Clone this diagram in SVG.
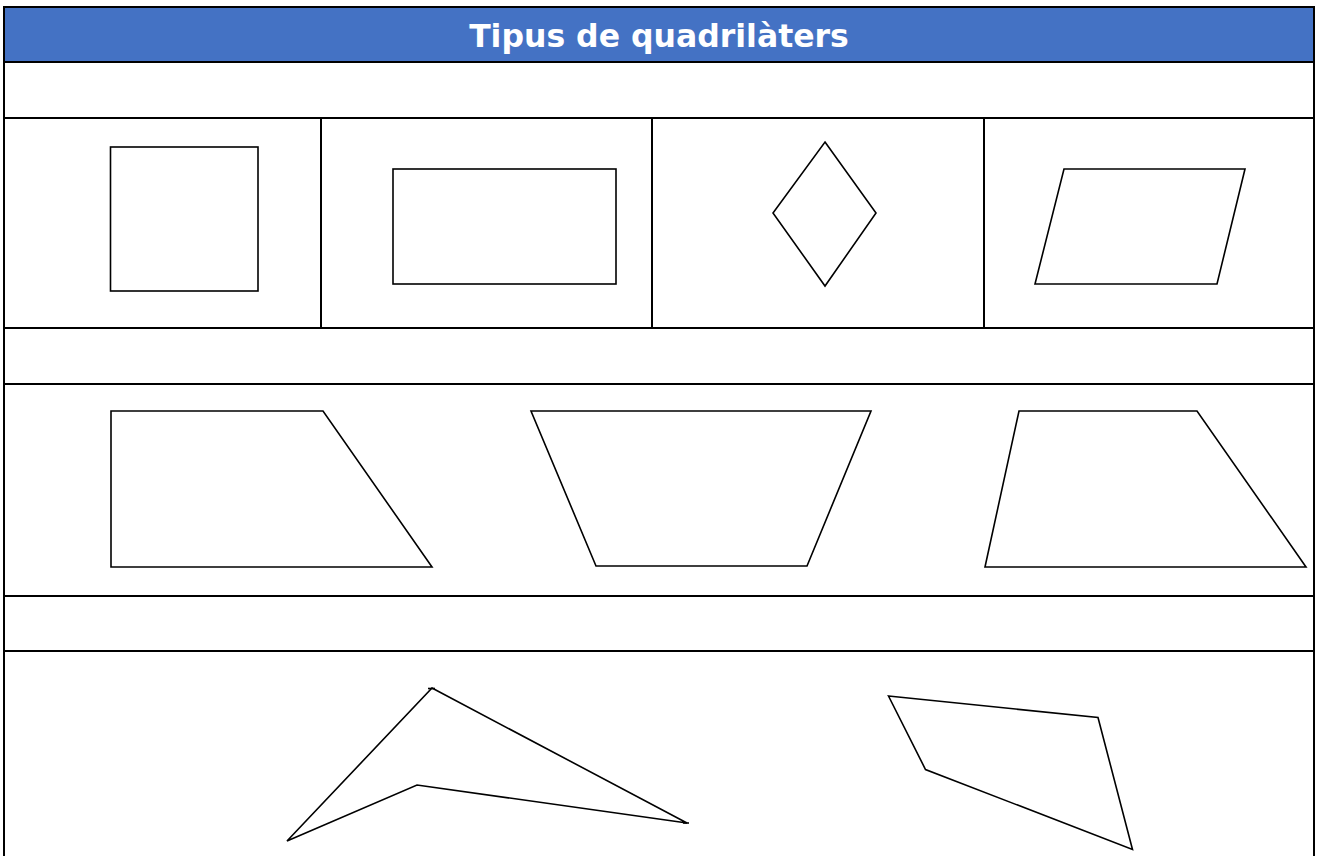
<svg xmlns="http://www.w3.org/2000/svg" width="1321" height="856" viewBox="0 0 1321 856">
<style>
.grid{stroke:#000;stroke-width:2;fill:none}
.shape{stroke:#000;stroke-width:1.6;fill:none;stroke-linejoin:miter}
.title{font-family:"DejaVu Sans",Verdana,sans-serif;font-weight:bold;font-size:31.5px;fill:#fff}
</style>
<rect x="0" y="0" width="1321" height="856" fill="#fff"/>
<g id="table">
<rect x="4" y="7" width="1310" height="55" fill="#4472C4"/>
<line class="grid" x1="4" y1="7" x2="1314" y2="7"/>
<line class="grid" x1="4" y1="62" x2="1314" y2="62"/>
<line class="grid" x1="4" y1="118" x2="1314" y2="118"/>
<line class="grid" x1="4" y1="328" x2="1314" y2="328"/>
<line class="grid" x1="4" y1="384" x2="1314" y2="384"/>
<line class="grid" x1="4" y1="596" x2="1314" y2="596"/>
<line class="grid" x1="4" y1="651" x2="1314" y2="651"/>
<line class="grid" x1="4" y1="6" x2="4" y2="856"/>
<line class="grid" x1="1314" y1="6" x2="1314" y2="856"/>
<line class="grid" x1="321" y1="118" x2="321" y2="328"/>
<line class="grid" x1="652" y1="118" x2="652" y2="328"/>
<line class="grid" x1="984" y1="118" x2="984" y2="328"/>
</g>
<g id="title"><text class="title" x="659" y="47" text-anchor="middle">Tipus de quadrilàters</text></g>
<g id="square"><rect class="shape" x="110.5" y="147" width="147.5" height="144"/></g>
<g id="rectangle"><rect class="shape" x="393" y="169" width="223" height="115"/></g>
<g id="rhombus"><polygon class="shape" points="825,142 876,213 825,286 773,213"/></g>
<g id="parallelogram"><polygon class="shape" points="1064,169 1245,169 1217,284 1035,284"/></g>
<g id="right-trapezoid"><polygon class="shape" points="111,411 323,411 432,567 111,567"/></g>
<g id="isosceles-trapezoid"><polygon class="shape" points="531,411 871,411 807,566 596,566"/></g>
<g id="scalene-trapezoid"><polygon class="shape" points="1019,411 1197,411 1306,567 985,567"/></g>
<g id="concave"><polygon class="shape" points="432,688 687,823 417,785 287,841"/><line class="shape" x1="428" y1="688.5" x2="435" y2="688.5"/><line class="shape" x1="683" y1="823" x2="689" y2="823"/></g>
<g id="trapezoid"><polygon class="shape" points="888.5,696 1098,717.5 1132.5,849.5 925.5,769.5"/></g>
</svg>
